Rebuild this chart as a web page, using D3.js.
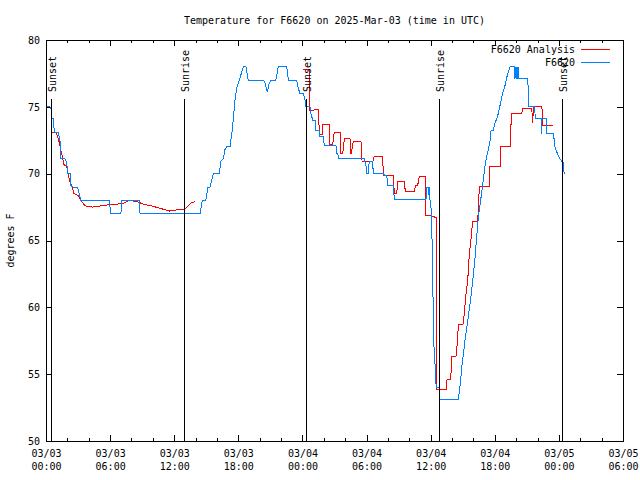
<!DOCTYPE html>
<html><head><meta charset="utf-8">
<script src="https://cdn.jsdelivr.net/npm/d3@7"></script>
<style>
body{margin:0;background:#fff}
svg{display:block}
text{font-family:"DejaVu Sans Mono",monospace;font-size:10px;fill:#000}
</style>
</head><body>
<svg id="chart" width="640" height="480"></svg>
<script>
// ---- data (hours since 2025-03-03 00:00 UTC, degrees F) ----
const chartTitle = "Temperature for F6620 on 2025-Mar-03 (time in UTC)";
const yTitle = "degrees F";
const seriesNames = ["F6620 Analysis", "F6620"];
const seriesColors = ["#ff0000", "#0080ff"];

const analysisHours = [0.59,0.96,1.06,1.22,1.38,1.53,1.68,1.94,2.06,2.25,2.46,2.62,2.93,3.09,3.25,3.49,3.62,4.33,5.27,6.06,6.52,7.30,7.77,8.54,9.17,9.80,10.74,11.51,12.29,12.92,13.54,13.92,
  null,
  24.02,24.64,24.65,24.80,25.20,25.52,25.53,25.64,25.89,25.90,26.51,26.58,26.83,26.98,27.52,27.61,27.77,27.92,28.45,28.55,28.76,29.48,29.58,30.58,30.73,31.51,31.57,32.50,32.60,32.82,32.92,33.53,33.63,34.47,34.57,34.79,34.94,35.47,35.56,36.10,36.25,36.50,36.51,37.44,37.50,37.88,37.97,38.37,38.51,38.59,39.03,39.15,39.31,39.47,39.62,39.75,39.93,40.37,40.46,40.55,41.49,41.55,42.49,42.56,43.43,43.49,43.59,44.52,44.61,45.46,45.51,45.55,45.61,46.39,46.49,46.50,47.48];
const analysisTemps = [73.1,73.1,72.8,72.4,71.8,71.3,70.7,70.5,70.0,69.4,69.0,68.5,68.4,68.3,68.0,67.8,67.6,67.5,67.6,67.7,67.7,67.8,68.0,67.9,67.7,67.6,67.4,67.2,67.3,67.3,67.8,67.9,
  null,
  77.8,77.8,74.7,74.7,74.8,74.8,73.8,72.9,72.9,73.7,73.7,72.15,72.15,73.1,73.1,71.5,71.5,72.6,72.6,71.45,72.4,72.4,70.9,70.9,71.3,71.3,69.9,69.9,68.5,68.5,69.45,69.45,68.65,68.65,69.1,69.15,69.8,69.8,66.9,66.85,66.8,66.7,53.87,53.87,54.56,54.62,56.34,56.34,57.43,58.68,58.75,59.55,61.05,62.05,64.04,64.91,66.41,66.41,67.15,69.03,69.03,70.52,70.52,72.02,72.02,73.32,74.52,74.52,74.89,74.89,74.26,73.77,75.01,75.01,74.39,73.64,73.64];

const obsHours = [0.12,0.37,0.53,0.54,0.68,0.78,1.15,1.31,1.38,1.78,1.94,2.03,2.25,2.34,2.56,2.93,3.12,3.25,5.92,6.06,7.02,7.03,8.73,8.80,14.41,14.63,14.95,15.16,15.35,15.66,16.22,16.35,16.59,16.75,16.91,17.22,17.44,17.53,17.69,17.85,18.09,18.32,18.47,18.72,18.93,20.34,20.50,20.71,20.90,21.06,21.50,21.65,21.74,22.53,22.68,23.46,23.61,23.77,24.08,24.24,24.33,24.71,24.80,24.96,25.18,25.27,25.58,25.64,25.95,26.05,27.14,27.21,27.30,27.39,29.79,29.95,30.01,30.16,30.17,30.32,30.57,30.63,31.57,31.66,31.89,31.98,32.50,32.60,35.56,35.66,35.75,35.82,35.87,35.96,36.10,36.15,36.25,36.31,36.41,36.47,36.57,36.81,36.87,38.59,38.68,38.81,38.90,39.05,39.21,39.37,39.52,39.68,39.84,39.99,40.15,40.31,40.46,40.62,40.78,40.93,41.09,41.25,41.40,41.56,41.65,41.86,42.02,42.18,42.33,42.49,42.65,42.80,42.96,43.12,43.27,43.43,43.83,43.89,43.99,44.08,44.17,44.26,45.07,45.13,45.20,45.76,45.77,46.33,46.34,46.40,46.87,46.88,47.49,47.65,47.87,48.06,48.31,48.43,48.49];
const obsTemps = [75.0,75.0,74.8,74.1,74.1,73.1,73.1,72.5,71.1,71.1,70.8,70.0,70.0,69.1,69.0,69.0,68.5,68.0,68.0,67.0,67.0,68.0,68.0,67.0,67.0,68.0,68.0,69.0,69.0,70.0,70.0,70.9,71.1,71.8,72.0,72.0,73.3,74.1,75.5,76.4,77.0,77.6,78.0,78.0,77.0,77.0,76.8,76.1,76.8,77.0,77.0,77.6,78.0,78.0,77.0,77.0,76.4,76.0,76.0,75.5,75.0,75.0,74.5,74.0,74.0,73.2,73.2,72.8,72.8,72.1,72.1,71.5,71.5,71.1,71.1,70.6,70.0,70.0,70.6,70.9,70.9,70.0,70.0,69.9,69.9,69.1,69.1,68.1,68.1,69.0,69.0,68.4,69.0,67.7,67.2,63.2,59.7,57.1,55.7,54.4,54.0,54.0,53.1,53.1,53.7,54.5,55.5,56.4,57.5,58.4,59.3,60.2,61.3,62.4,63.7,65.3,66.7,67.7,68.6,69.6,70.6,71.3,71.8,72.5,73.2,73.2,73.8,74.1,74.5,75.1,75.7,76.2,76.6,77.2,77.6,78.0,78.0,77.1,78.0,77.1,78.0,77.1,77.1,76.4,75.0,75.0,74.1,74.1,73.0,74.1,74.1,73.0,73.0,71.9,71.5,71.15,70.9,70.8,70.0];

const sunLabels = ["Sunset","Sunrise","Sunset","Sunrise","Sunset"];
const sunHours = [0.50, 12.94, 24.33, 36.81, 48.32];

const xTickHours = [0,6,12,18,24,30,36,42,48,54];
const xTickDates = ["03/03","03/03","03/03","03/03","03/04","03/04","03/04","03/04","03/05","03/05"];
const xTickTimes = ["00:00","06:00","12:00","18:00","00:00","06:00","12:00","18:00","00:00","06:00"];
const xMinorHours = [2,4,8,10,14,16,20,22,26,28,32,34,38,40,44,46,50,52];
const yTicks = [50,55,60,65,70,75,80];

// ---- drawing ----
const t0 = Date.UTC(2025, 2, 3);
const toDate = h => new Date(t0 + h * 3600e3);
const L = 46, R = 623, T = 40, B = 441;
const svg = d3.select("#chart");

const x = d3.scaleUtc().domain([toDate(0), toDate(54)]).range([L, R]);
const y = d3.scaleLinear().domain([50, 80]).range([B, T]);

// title
svg.append("text").attr("x", (L + R) / 2).attr("y", 24).attr("text-anchor", "middle").text(chartTitle);
// y title
svg.append("text").attr("transform", `translate(14,${(T + B) / 2}) rotate(-90)`)
  .attr("text-anchor", "middle").text(yTitle);

const crisp = g => g.attr("shape-rendering", "crispEdges");

// bottom axis (major, labels)
const gx = svg.append("g").attr("transform", `translate(0,${B})`)
  .call(d3.axisBottom(x).tickValues(xTickHours.map(toDate)).tickSizeInner(-6).tickSizeOuter(0).tickPadding(9));
gx.selectAll(".tick text").each(function(d, i) {
  const t = d3.select(this);
  t.text(null);
  t.append("tspan").attr("x", 0).text(xTickDates[i]);
  t.append("tspan").attr("x", 0).attr("dy", 13).text(xTickTimes[i]);
});
// minor bottom
svg.append("g").attr("transform", `translate(0,${B})`)
  .call(d3.axisBottom(x).tickValues(xMinorHours.map(toDate)).tickSizeInner(-3).tickSizeOuter(0).tickFormat(""));
// top
svg.append("g").attr("transform", `translate(0,${T})`)
  .call(d3.axisTop(x).tickValues(xTickHours.map(toDate)).tickSizeInner(-6).tickSizeOuter(0).tickFormat(""));
svg.append("g").attr("transform", `translate(0,${T})`)
  .call(d3.axisTop(x).tickValues(xMinorHours.map(toDate)).tickSizeInner(-3).tickSizeOuter(0).tickFormat(""));
// left
svg.append("g").attr("transform", `translate(${L},0)`)
  .call(d3.axisLeft(y).tickValues(yTicks).tickSizeInner(-6).tickSizeOuter(0).tickPadding(6));
// right
svg.append("g").attr("transform", `translate(${R},0)`)
  .call(d3.axisRight(y).tickValues(yTicks).tickSizeInner(-6).tickSizeOuter(0).tickFormat(""));

svg.selectAll(".domain").remove();
svg.selectAll(".tick line").attr("stroke", "#000").call(crisp);
svg.selectAll(".tick text").attr("font-family", "DejaVu Sans Mono, monospace").attr("font-size", 10).attr("fill", "#000");

// frame
svg.append("rect").attr("x", L).attr("y", T).attr("width", R - L).attr("height", B - T)
  .attr("fill", "none").attr("stroke", "#000").call(crisp);

// data lines
const line = d3.line()
  .defined(d => d.t != null && d.v != null)
  .x(d => x(toDate(d.t))).y(d => y(d.v));

const analysis = analysisHours.map((t, i) => ({ t, v: analysisTemps[i] }));
const obs = obsHours.map((t, i) => ({ t, v: obsTemps[i] }));

svg.append("path").datum(analysis).attr("d", line).attr("fill", "none")
  .attr("stroke", seriesColors[0]).attr("stroke-width", 1).call(crisp);
svg.append("path").datum(obs).attr("d", line).attr("fill", "none")
  .attr("stroke", seriesColors[1]).attr("stroke-width", 1).call(crisp);

// sunrise / sunset markers
const sun = svg.append("g");
sunHours.forEach((h, i) => {
  const sx = Math.round(x(toDate(h))) + 0.5;
  sun.append("line").attr("x1", sx).attr("x2", sx).attr("y1", 99).attr("y2", B)
    .attr("stroke", "#000").attr("stroke-width", 1).call(crisp);
  sun.append("text").attr("transform", `translate(${sx + 1},92) rotate(-90)`)
    .attr("dy", "0.35em").text(sunLabels[i]);
});

// legend
const lg = svg.append("g");
[49, 62].forEach((ly, i) => {
  lg.append("text").attr("x", 575).attr("y", ly).attr("dy", "0.35em").attr("text-anchor", "end").text(seriesNames[i]);
  lg.append("line").attr("x1", 581).attr("x2", 610).attr("y1", ly + 0.5).attr("y2", ly + 0.5)
    .attr("stroke", seriesColors[i]).attr("stroke-width", 1).call(crisp);
});
</script>
</body></html>
